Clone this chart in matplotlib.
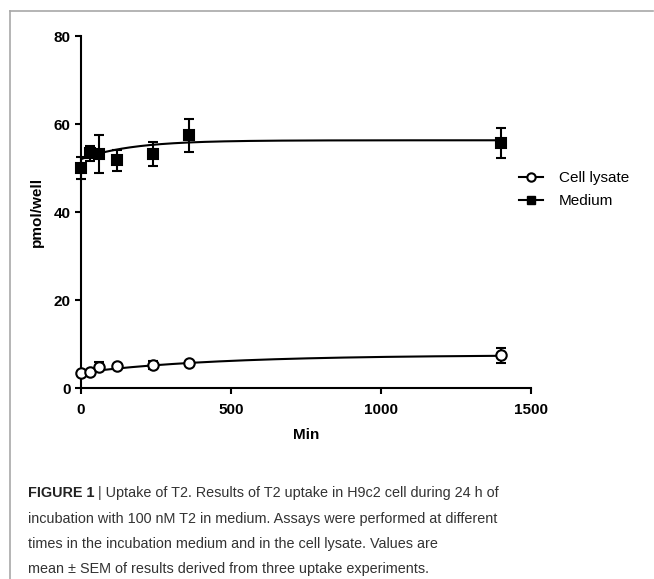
import numpy as np
import matplotlib
matplotlib.use("Agg")
import matplotlib.pyplot as plt
from matplotlib.lines import Line2D

plt.rcParams["font.family"] = ["Liberation Sans", "DejaVu Sans"]

# ── DATA ────────────────────────────────────────────────────────────
time_min = [0, 30, 60, 120, 240, 360, 1400]

medium_mean = [50.0, 53.3, 53.2, 51.8, 53.2, 57.4, 55.6]
medium_sem = [2.6, 1.8, 4.4, 2.4, 2.7, 3.8, 3.4]

lysate_mean = [3.3, 3.6, 4.8, 4.9, 5.3, 5.7, 7.4]
lysate_sem = [0.3, 0.3, 1.0, 0.4, 0.9, 0.3, 1.7]

# one-phase association fits: Y0, plateau, K
medium_fit = (52.0, 56.3, 0.0060)
lysate_fit = (3.5, 7.5, 0.0022)

x_ticks = [0, 500, 1000, 1500]
y_ticks = [0, 20, 40, 60, 80]

caption_head = "FIGURE 1"
caption_first = " | Uptake of T2. Results of T2 uptake in H9c2 cell during 24 h of"
caption_rest = [
    "incubation with 100 nM T2 in medium. Assays were performed at different",
    "times in the incubation medium and in the cell lysate. Values are",
    "mean \u00b1 SEM of results derived from three uptake experiments.",
]


def assoc(x, y0, plateau, k):
    return y0 + (plateau - y0) * (1 - np.exp(-k * x))


W, H = 654, 579
fig = plt.figure(figsize=(W / 100, H / 100), dpi=100)
ax = fig.add_axes([81 / W, 1 - 388 / H, 450 / W, 352 / H])

xs = np.linspace(0, max(time_min), 300)
ax.plot(xs, assoc(xs, *medium_fit), color="black", lw=1.5, zorder=2)
ax.plot(xs, assoc(xs, *lysate_fit), color="black", lw=1.5, zorder=2)

for mean, sem, mk, face in [(medium_mean, medium_sem, "s", "black"),
                            (lysate_mean, lysate_sem, "o", "white")]:
    cont = ax.errorbar(time_min, mean, yerr=sem, fmt=mk, color="black",
                       mfc=face, mec="black", mew=1.5, ms=7.5,
                       elinewidth=1.5, capsize=3.5, capthick=1.5, zorder=3)
    for art in cont.get_children():
        art.set_clip_on(False)

ax.set_xlim(0, 1500)
ax.set_ylim(0, 80)
ax.set_xticks(x_ticks)
ax.set_yticks(y_ticks)
ax.spines[["top", "right"]].set_visible(False)
ax.spines["left"].set_linewidth(1.5)
ax.spines["bottom"].set_linewidth(1.5)
ax.tick_params(width=1.5, length=4.5, labelsize=11, pad=3)
ax.tick_params(axis="x", pad=6)
for lab in ax.get_xticklabels() + ax.get_yticklabels():
    lab.set_fontweight("bold")
ax.set_xlabel("Min", fontsize=11, fontweight="bold", labelpad=8)
ax.set_ylabel("pmol/well", fontsize=11, fontweight="bold", labelpad=7)

handles = [
    Line2D([], [], color="black", lw=1.5, marker="o", mfc="white",
           mec="black", mew=1.5, ms=6),
    Line2D([], [], color="black", lw=1.5, marker="s", ms=6),
]
fig.legend(handles, ["Cell lysate", "Medium"], loc="upper left",
           bbox_to_anchor=(519 / W, 1 - 171 / H), frameon=False,
           fontsize=11, handlelength=1.6, handletextpad=1.0,
           labelspacing=0.6, borderpad=0, borderaxespad=0)

# caption
cap_color = "#333333"
cap_size = 10.4
head = fig.text(28 / W, 1 - 493 / H, caption_head, fontsize=cap_size,
                fontweight="bold", color="#222222", va="center")
fig.canvas.draw()
bb = head.get_window_extent(fig.canvas.get_renderer())
fig.text(bb.x1 / W, 1 - 493 / H, caption_first, fontsize=cap_size,
         color=cap_color, va="center")
for i, line in enumerate(caption_rest):
    fig.text(28 / W, 1 - (519 + 25 * i) / H, line, fontsize=cap_size,
             color=cap_color, va="center")

# page frame
frame = "#a8a8a8"
fig.add_artist(Line2D([9.5 / W, 9.5 / W], [0, 1 - 11 / H], color=frame, lw=1.2))
fig.add_artist(Line2D([9.5 / W, 653 / W], [1 - 11 / H, 1 - 11 / H],
                      color=frame, lw=1.2))

fig.savefig("out.png", dpi=100)
